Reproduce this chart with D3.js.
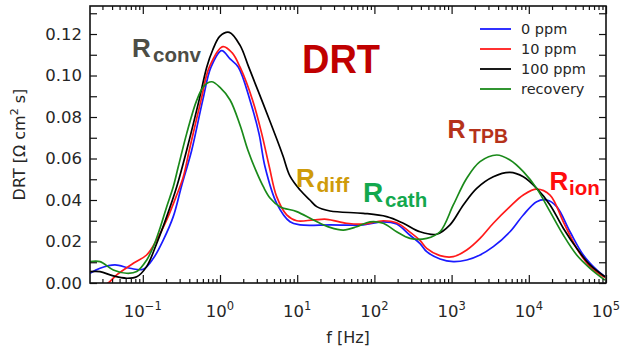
<!DOCTYPE html>
<html>
<head>
<meta charset="utf-8">
<script src="https://cdn.jsdelivr.net/npm/d3@7"></script>
<style>
  html, body { margin: 0; padding: 0; background: #fff; }
  svg { display: block; }
</style>
</head>
<body>
<svg id="chart" width="620" height="355"></svg>
<script>
// Distribution of relaxation times for four H2S exposure states
const freqBlue = [0.0207,0.0279,0.0436,0.0683,0.101,0.137,0.184,0.248,0.319,0.430,0.597,0.764,1.05,1.35,1.73,2.45,3.20,3.83,5.42,8.07,10.9,26.6,71.8,130,194,289,390,476,708,1052,1570,2334,3470,5700,8490,12650,17060,22970,34200,50820,75800,97000];
const drtBlue = [0.0047,0.0071,0.0087,0.0071,0.0066,0.0119,0.0207,0.032,0.047,0.064,0.088,0.104,0.112,0.108,0.104,0.088,0.072,0.056,0.0384,0.0295,0.028,0.028,0.028,0.0295,0.0284,0.023,0.019,0.0151,0.0116,0.0103,0.0111,0.0135,0.0175,0.0247,0.0328,0.0392,0.040,0.0368,0.0247,0.0135,0.0063,0.003];

const freqRed = [0.0240,0.0357,0.0459,0.0753,0.112,0.151,0.204,0.275,0.335,0.400,0.567,0.727,1.09,1.43,1.82,2.65,3.47,4.35,5.42,7.31,9.86,16.2,24.1,43.8,71.8,130,194,289,390,476,708,1052,1570,2334,3470,5700,8490,12650,18840,27990,41730,62060,97000];
const drtRed = [-0.004,0,0.0039,0.0095,0.0135,0.0207,0.0304,0.0424,0.0512,0.064,0.088,0.104,0.1139,0.111,0.104,0.088,0.072,0.056,0.0416,0.0328,0.030,0.0304,0.0307,0.0288,0.0284,0.030,0.029,0.0245,0.0205,0.0167,0.0132,0.0127,0.0159,0.0215,0.0288,0.0368,0.0424,0.0452,0.0424,0.0295,0.0167,0.0079,0.0026];

const freqBlack = [0.0207,0.0279,0.0415,0.0618,0.0834,0.112,0.151,0.204,0.275,0.370,0.535,0.673,0.804,1.00,1.32,1.82,2.33,2.90,3.64,5.42,6.55,8.07,10.9,14.6,17.9,26.6,71.8,144,237,390,641,953,1418,2114,3470,5700,8490,12650,18840,27990,41730,62060,97000];
const drtBlack = [0.0055,0.0055,0.0034,0.0023,0.003,0.0079,0.019,0.032,0.0464,0.064,0.088,0.104,0.1123,0.119,0.1208,0.1145,0.1045,0.0955,0.0862,0.0695,0.0612,0.0515,0.0448,0.040,0.0368,0.0347,0.0336,0.032,0.0288,0.0247,0.0235,0.028,0.0376,0.0456,0.0512,0.0533,0.0512,0.0456,0.0376,0.0264,0.0167,0.0087,0.003];

const freqGreen = [0.0207,0.0279,0.0415,0.0618,0.0834,0.112,0.137,0.167,0.204,0.248,0.288,0.370,0.499,0.621,0.780,1.00,1.35,1.82,2.30,2.93,3.64,4.44,5.99,9.86,16.2,26.6,39.6,59.0,87.7,130,194,289,476,708,1052,1570,2334,3840,5700,8490,12650,18840,27990,41730,62060,97000];
const drtGreen = [0.0103,0.0103,0.0063,0.0047,0.0055,0.011,0.0175,0.0264,0.0368,0.0464,0.056,0.072,0.088,0.095,0.097,0.0943,0.0882,0.076,0.064,0.054,0.0464,0.041,0.0368,0.0344,0.0304,0.0268,0.0255,0.0271,0.0295,0.0288,0.0247,0.0215,0.0215,0.0247,0.0376,0.0505,0.0585,0.0617,0.0593,0.0537,0.0456,0.0344,0.0231,0.0135,0.0071,0.0014];

const seriesNames = ["0 ppm", "10 ppm", "100 ppm", "recovery"];
const seriesColors = ["#1a1aff", "#ff1a1a", "#000000", "#1a8a1a"];

const yTickValues = [0, 0.01, 0.02, 0.03, 0.04, 0.05, 0.06, 0.07, 0.08, 0.09, 0.10, 0.11, 0.12, 0.13];
const yTickLabels = ["0.00", "", "0.02", "", "0.04", "", "0.06", "", "0.08", "", "0.10", "", "0.12", ""];
const xDecadeExponents = [-1, 0, 1, 2, 3, 4, 5];

const series = [
  { name: seriesNames[0], color: seriesColors[0], f: freqBlue,  v: drtBlue },
  { name: seriesNames[1], color: seriesColors[1], f: freqRed,   v: drtRed },
  { name: seriesNames[2], color: seriesColors[2], f: freqBlack, v: drtBlack },
  { name: seriesNames[3], color: seriesColors[3], f: freqGreen, v: drtGreen }
];

const svg = d3.select("#chart");
const plot = { left: 90, right: 606, top: 6, bottom: 283 };

const x = d3.scaleLog().domain([Math.pow(10, -1.684), 1e5]).range([plot.left, plot.right]);
const y = d3.scaleLinear().domain([0, 0.1335]).range([plot.bottom, plot.top]);

const tickFont = "'DejaVu Sans', sans-serif";
const inkColor = "#262626";

svg.append("defs").append("clipPath").attr("id", "plotClip")
  .append("rect")
  .attr("x", plot.left).attr("y", plot.top)
  .attr("width", plot.right - plot.left).attr("height", plot.bottom - plot.top);

// curves
const line = d3.line()
  .x(d => x(d[0]))
  .y(d => y(d[1]))
  .curve(d3.curveCatmullRom.alpha(0.5));

const curves = svg.append("g").attr("clip-path", "url(#plotClip)");
series.forEach(s => {
  curves.append("path")
    .datum(s.f.map((f, i) => [f, s.v[i]]))
    .attr("fill", "none")
    .attr("stroke", s.color)
    .attr("stroke-width", 1.7)
    .attr("stroke-linejoin", "round")
    .attr("d", line);
});

// tick positions
const majorX = xDecadeExponents.map(e => Math.pow(10, e));
const minorX = [];
for (let e = -2; e <= 4; e++) {
  for (let m = 2; m <= 9; m++) {
    const v = m * Math.pow(10, e);
    if (v >= x.domain()[0] && v <= x.domain()[1]) minorX.push(v);
  }
}

function styleAxis(g) {
  g.select(".domain").remove();
  g.selectAll(".tick line").attr("stroke", "#111").attr("stroke-width", 1.2);
}

// bottom & top ticks (pointing inward)
svg.append("g").attr("transform", `translate(0,${plot.bottom})`)
  .call(d3.axisBottom(x).tickValues(majorX).tickSize(-8).tickFormat(""))
  .call(styleAxis);
svg.append("g").attr("transform", `translate(0,${plot.bottom})`)
  .call(d3.axisBottom(x).tickValues(minorX).tickSize(-4).tickFormat(""))
  .call(styleAxis);
svg.append("g").attr("transform", `translate(0,${plot.top})`)
  .call(d3.axisTop(x).tickValues(majorX).tickSize(-8).tickFormat(""))
  .call(styleAxis);
svg.append("g").attr("transform", `translate(0,${plot.top})`)
  .call(d3.axisTop(x).tickValues(minorX).tickSize(-4).tickFormat(""))
  .call(styleAxis);

// left & right ticks
const yAxisLeft = svg.append("g").attr("transform", `translate(${plot.left},0)`)
  .call(d3.axisLeft(y).tickValues(yTickValues).tickSize(-7).tickPadding(8)
    .tickFormat((d, i) => yTickLabels[i]))
  .call(styleAxis);
yAxisLeft.selectAll(".tick text")
  .attr("font-family", tickFont).attr("font-size", 16.5).attr("fill", inkColor);

svg.append("g").attr("transform", `translate(${plot.right},0)`)
  .call(d3.axisRight(y).tickValues(yTickValues).tickSize(-7).tickFormat(""))
  .call(styleAxis);

// x decade labels: 10^n
const xLabels = svg.append("g")
  .attr("font-family", tickFont).attr("fill", inkColor);
xDecadeExponents.forEach(e => {
  const t = xLabels.append("text")
    .attr("x", x(Math.pow(10, e)))
    .attr("y", 317)
    .attr("text-anchor", "middle")
    .attr("font-size", 16.5);
  t.append("tspan").text("10");
  t.append("tspan").attr("dy", -7).attr("font-size", 11.5)
    .text(e < 0 ? "\u2212" + Math.abs(e) : String(e));
});

// frame
svg.append("rect")
  .attr("x", plot.left).attr("y", plot.top)
  .attr("width", plot.right - plot.left).attr("height", plot.bottom - plot.top)
  .attr("fill", "none").attr("stroke", "#111").attr("stroke-width", 1.6);

// axis titles
svg.append("text")
  .attr("x", (plot.left + plot.right) / 2).attr("y", 343)
  .attr("text-anchor", "middle")
  .attr("font-family", tickFont).attr("font-size", 16).attr("fill", inkColor)
  .text("f [Hz]");

const yTitle = svg.append("text")
  .attr("transform", `translate(25,${(plot.top + plot.bottom) / 2}) rotate(-90)`)
  .attr("text-anchor", "middle")
  .attr("font-family", tickFont).attr("font-size", 16).attr("fill", inkColor);
yTitle.append("tspan").text("DRT [\u03A9 cm");
yTitle.append("tspan").attr("dy", -7).attr("font-size", 11).text("2");
yTitle.append("tspan").attr("dy", 7).text(" s]");

// legend
const legend = svg.append("g");
series.forEach((s, i) => {
  const ly = 29 + i * 20;
  legend.append("line")
    .attr("x1", 480).attr("x2", 511).attr("y1", ly).attr("y2", ly)
    .attr("stroke", s.color).attr("stroke-width", 1.8);
  legend.append("text")
    .attr("x", 521).attr("y", ly + 5)
    .attr("font-family", tickFont).attr("font-size", 14.5).attr("fill", inkColor)
    .text(s.name);
});

// process labels
const labelFont = "'Liberation Sans', Arial, sans-serif";
function processLabel(main, sub, xPos, yBase, color, mainSize, subSize, subDx, subDy) {
  const g = svg.append("g").attr("font-family", labelFont).attr("font-weight", "bold").attr("fill", color);
  g.append("text").attr("x", xPos).attr("y", yBase).attr("font-size", mainSize).text(main);
  g.append("text").attr("x", xPos + subDx).attr("y", yBase + subDy).attr("font-size", subSize).text(sub);
}
processLabel("R", "conv", 132, 56.5, "#4d4d45", 26, 20.5, 21, 5);
processLabel("R", "diff", 296, 186.5, "#cf9b0a", 26, 21, 20.5, 5);
processLabel("R", "cath", 363, 201.5, "#13a84e", 28, 20.5, 22, 5);
processLabel("R", "TPB", 447.5, 137.5, "#b5321a", 25, 19.5, 21.5, 5.5);
processLabel("R", "ion", 549.5, 190, "#ff0d0d", 26, 20.5, 19.5, 5);

svg.append("text")
  .attr("x", 302).attr("y", 72.5)
  .attr("font-family", labelFont).attr("font-weight", "bold")
  .attr("font-size", 41).attr("fill", "#c00000")
  .attr("textLength", 78).attr("lengthAdjust", "spacingAndGlyphs")
  .text("DRT");
</script>
</body>
</html>
